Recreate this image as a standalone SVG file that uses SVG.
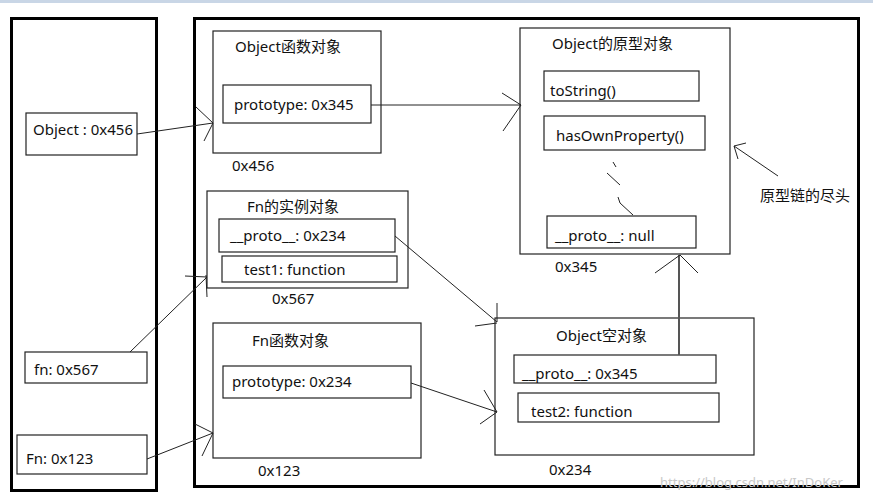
<svg xmlns="http://www.w3.org/2000/svg" width="873" height="500" viewBox="0 0 873 500">
<style>
text{font-family:"Noto Sans","Noto Sans CJK SC",sans-serif;font-size:15px;fill:#111}
.frame{fill:none;stroke:#000;stroke-width:3}
.box{fill:#fff;stroke:#222;stroke-width:1.2}
.c{fill:none;stroke:#222;stroke-width:1}
.wm{fill:#c8c8c8;font-size:13px}
</style>
<rect x="0" y="0" width="873" height="500" fill="#fff"/>
<rect x="0" y="0" width="873" height="3" fill="#c9d6e6"/>
<rect class="frame" x="11.5" y="18.5" width="145" height="472"/>
<rect class="frame" x="194.5" y="18.5" width="664" height="468"/>

<g id="stack-object">
<rect class="box" x="26" y="113" width="111" height="42"/>
<text x="33" y="135">Object : 0x456</text>
</g>
<g id="stack-fn-lower">
<rect class="box" x="25" y="352" width="122" height="31"/>
<text x="34" y="375">fn: 0x567</text>
</g>
<g id="stack-Fn">
<rect class="box" x="17" y="435" width="130" height="39"/>
<text x="26" y="464">Fn: 0x123</text>
</g>

<g id="object-function">
<rect class="box" x="213" y="31" width="168" height="122"/>
<text x="235" y="52">Object函数对象</text>
<rect class="box" x="223" y="85" width="148" height="38"/>
<text x="234" y="110">prototype: 0x345</text>
<text x="232" y="171">0x456</text>
</g>

<g id="fn-instance">
<rect class="box" x="207" y="191" width="201" height="97"/>
<text x="247" y="212">Fn的实例对象</text>
<rect class="box" x="219" y="219" width="176" height="33"/>
<text x="230" y="241">__proto__: 0x234</text>
<rect class="box" x="222" y="256" width="175" height="26"/>
<text x="244" y="275">test1: function</text>
<text x="272" y="304">0x567</text>
</g>

<g id="fn-function">
<rect class="box" x="213" y="323" width="208" height="135"/>
<text x="252" y="346">Fn函数对象</text>
<rect class="box" x="223" y="366" width="188" height="32"/>
<text x="232" y="387">prototype: 0x234</text>
<text x="258" y="476">0x123</text>
</g>

<g id="object-prototype">
<rect class="box" x="520" y="28" width="210" height="226"/>
<text x="552" y="49">Object的原型对象</text>
<rect class="box" x="544" y="71" width="155" height="30"/>
<text x="550" y="96">toString()</text>
<rect class="box" x="544" y="116" width="161" height="34"/>
<text x="556" y="141">hasOwnProperty()</text>
<path class="c" d="M613,162 L616,167 M607,173 L620,185 M618,197 L620,203 L633,215"/>
<rect class="box" x="547" y="216" width="149" height="32"/>
<text x="555" y="241">__proto__: null</text>
<text x="555" y="272">0x345</text>
</g>

<g id="object-empty">
<rect class="box" x="495" y="318" width="259" height="137"/>
<text x="556" y="341">Object空对象</text>
<rect class="box" x="514" y="355" width="202" height="28"/>
<text x="522" y="379">__proto__: 0x345</text>
<rect class="box" x="518" y="393" width="201" height="29"/>
<text x="531" y="417">test2: function</text>
<text x="549" y="475">0x234</text>
</g>

<g id="annotation">
<path class="c" d="M778,176 L734,146 M734,146 L746,143 M734,146 L738,159"/>
<text x="760" y="201">原型链的尽头</text>
</g>

<g id="connectors">
<path class="c" d="M137,134 L213,123 M196,107 L213,123 L204,141"/>
<path class="c" d="M371,105 L521,105 M502,93 L521,105 L503,131"/>
<path class="c" d="M130,352 L207,277 M185,276 L207,277 M206,275 L207,297"/>
<path class="c" d="M147,459 L213,433 M195,424 L213,433 L202,456"/>
<path class="c" d="M395,236 L497,322 M497,303 L497,322 M475,326 L497,323"/>
<path class="c" d="M411,383 L497,412 M484,390 L497,412 L480,424"/>
<path fill="none" stroke="#555" stroke-width="2" d="M679,355 L679,255"/>
<path class="c" d="M655,273 L680,255 L698,273"/>
</g>
<text class="wm" x="660" y="487">https://blog.csdn.net/InDoKer</text>
</svg>
